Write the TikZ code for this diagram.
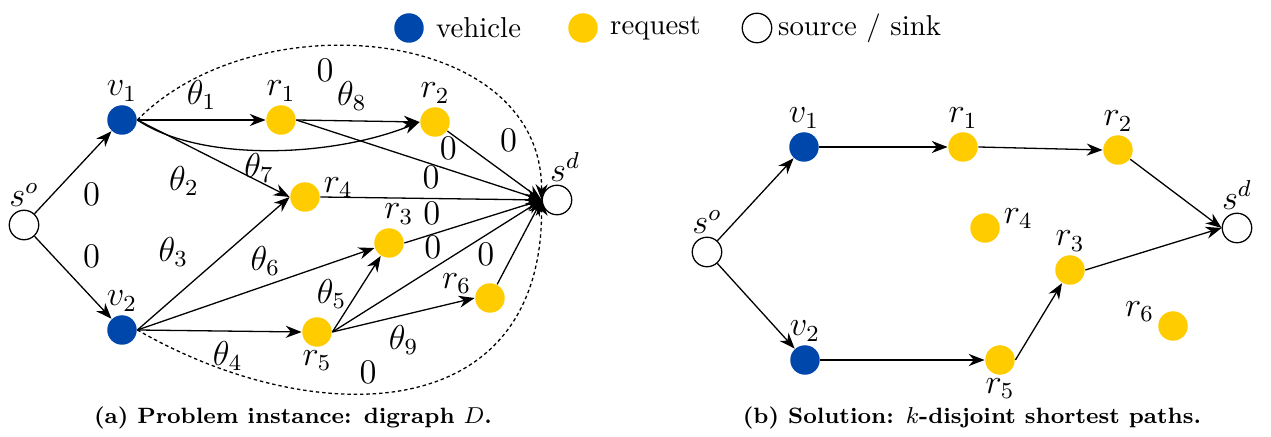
\documentclass[tikz,border=0pt]{standalone}
\usepackage{tikz}
\usepackage{xcolor}
\usetikzlibrary{arrows.meta}
\definecolor{vehBlue}{RGB}{0, 71, 171}
\definecolor{reqYellow}{RGB}{255, 204, 0}

\tikzset{
    vehicle/.style={circle, fill=vehBlue, minimum size=0.36cm, inner sep=0pt},
    request/.style={circle, fill=reqYellow, minimum size=0.36cm, inner sep=0pt},
    terminal/.style={circle, draw, fill=white, minimum size=0.36cm, inner sep=0pt},
    zeroarc/.style={dash pattern=on 1.2pt off 1pt},
    every label/.style={font=\large, inner sep=1pt},
    subcap/.style={font=\fontsize{7.7pt}{9pt}\selectfont\bfseries},
}

\begin{document}
\begin{tikzpicture}[x=0.0122cm, y=-0.0122cm, >={Stealth[length=5.5pt, width=4.2pt]}, font=\large, line width=0.45pt]
    \useasboundingbox (0,0) rectangle (1271,437);

    % legend
    \node[vehicle] (legv) at (409,28) {};
    \node[anchor=west, font=\normalsize] (legvt) at (426,28) {vehicle};
    \node[request] (legr) at (583,28) {};
    \node[anchor=west, font=\normalsize] (legrt) at (600,28) {request};
    \node[terminal] (legs) at (757,28) {};
    \node[anchor=west, font=\normalsize] (legst) at (768,28) {source / sink};

    % (a) digraph D
    \node[terminal, label=above:$s^o$] (so) at (24,225) {};
    \node[vehicle, label=above:$v_1$] (v1) at (122,120) {};
    \node[vehicle, label=above:$v_2$] (v2) at (122,330) {};
    \node[request, label=above:$r_1$] (r1) at (281,120) {};
    \node[request, label=above:$r_2$] (r2) at (435,122) {};
    \node[request, label={[yshift=0.12cm]right:$r_4$}] (r4) at (305,197) {};
    \node[request, label={[xshift=0.12cm]above:$r_3$}] (r3) at (389,243) {};
    \node[request, label={[yshift=0.18cm]left:$r_6$}] (r6) at (490,298) {};
    \node[request, label=below:$r_5$] (r5) at (317,332) {};
    \node[terminal, label={[xshift=0.1cm]above:$s^d$}] (sd) at (557,200) {};

    \draw[->] (so) -- node[below right] {$0$} (v1);
    \draw[->] (so) -- node[above right] {$0$} (v2);
    \draw[->] (v1.east) -- node[above] {$\theta_1$} (r1.west);
    \draw[->] (r1.east) -- node[above, pos=0.45] {$\theta_8$} (r2.west);
    \draw[->] (v1.east) .. controls (200,162) and (330,158) .. node[below, pos=0.47, inner sep=1pt] {$\theta_7$} (r2.west);
    \draw[->] (v1.east) -- node[below left, pos=0.47] {$\theta_2$} (r4.west);
    \draw[->] (v2.east) -- node[above left, pos=0.4] {$\theta_3$} (r4.west);
    \draw[->] (v2.east) -- node[above, pos=0.54] {$\theta_6$} (r3);
    \draw[->] (v2.east) -- node[below, pos=0.55] {$\theta_4$} (r5.west);
    \draw[->] (r5.east) -- node[left, pos=0.5] {$\theta_5$} (r3);
    \draw[->] (r5.east) -- node[below, pos=0.5] {$\theta_9$} (r6.west);
    \draw[->] (r1.east) -- node[above, pos=0.62] {$0$} (sd.west);
    \draw[->] (r2) -- node[above right, pos=0.45] {$0$} (sd.west);
    \draw[->] (r4.east) -- node[above] {$0$} (sd.west);
    \draw[->] (r3.east) -- node[above, pos=0.2] {$0$} (sd.west);
    \draw[->] (r5.east) -- node[above, pos=0.48] {$0$} (sd.west);
    \draw[->] (r6) -- node[left, pos=0.35, xshift=-0.1cm] {$0$} (sd.west);
    \draw[->, zeroarc] (v1.east) .. controls (255,0) and (542,25) .. (sd.west);
    \draw[->, zeroarc] (v2.east) .. controls (311,430) and (542,430) .. (sd.west);
    \node (top0) at (325,70) {$0$};
    \node (bot0) at (368,372) {$0$};

    \node[subcap] (capa) at (293,418) {(a) Problem instance: digraph $D$.};

    % (b) shortest paths
    \node[terminal, label=above:$s^o$] (bso) at (707,252) {};
    \node[vehicle, label=above:$v_1$] (bv1) at (804,147) {};
    \node[vehicle, label=above:$v_2$] (bv2) at (805,360) {};
    \node[request, label=above:$r_1$] (br1) at (963,147) {};
    \node[request, label=above:$r_2$] (br2) at (1118,150) {};
    \node[request, label={[yshift=0.12cm]right:$r_4$}] (br4) at (985,228) {};
    \node[request, label=above:$r_3$] (br3) at (1070,270) {};
    \node[request, label={[yshift=0.18cm]left:$r_6$}] (br6) at (1173,326) {};
    \node[request, label=below:$r_5$] (br5) at (1000,360) {};
    \node[terminal, label=above:$s^d$] (bsd) at (1237,228) {};

    \draw[->] (bso) -- (bv1);
    \draw[->] (bv1.east) -- (br1.west);
    \draw[->] (br1.east) -- (br2.west);
    \draw[->] (br2) -- (bsd.west);
    \draw[->] (bso) -- (bv2);
    \draw[->] (bv2.east) -- (br5.west);
    \draw[->] (br5.east) -- (br3);
    \draw[->] (br3.east) -- (bsd.west);

    \node[subcap] (capb) at (972,418) {(b) Solution: $k$-disjoint shortest paths.};
\end{tikzpicture}
\end{document}
